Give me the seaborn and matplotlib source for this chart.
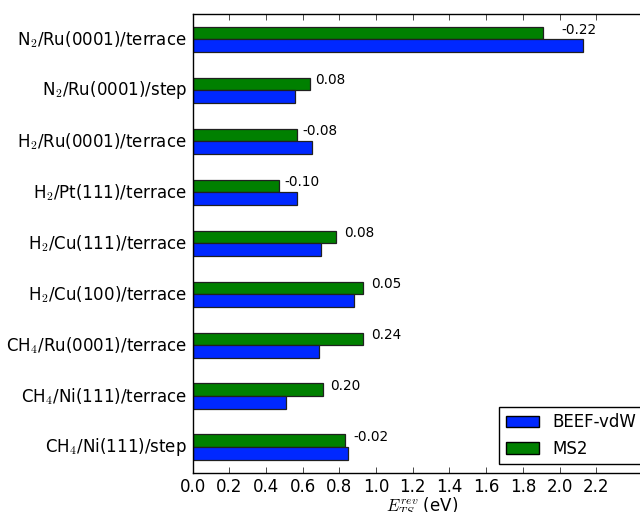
import matplotlib
matplotlib.use("Agg")
import matplotlib.pyplot as plt
import matplotlib.patches as mpatches
import numpy as np
import pandas as pd
import seaborn as sns

# Reaction systems, top to bottom
systems = [
    r"N$_2$/Ru(0001)/terrace",
    r"N$_2$/Ru(0001)/step",
    r"H$_2$/Ru(0001)/terrace",
    r"H$_2$/Pt(111)/terrace",
    r"H$_2$/Cu(111)/terrace",
    r"H$_2$/Cu(100)/terrace",
    r"CH$_4$/Ru(0001)/terrace",
    r"CH$_4$/Ni(111)/terrace",
    r"CH$_4$/Ni(111)/step",
]

# Reverse barrier heights (eV)
beef_vdw = [2.13, 0.56, 0.65, 0.57, 0.70, 0.88, 0.69, 0.51, 0.85]
ms2 = [1.91, 0.64, 0.57, 0.47, 0.78, 0.93, 0.93, 0.71, 0.83]

# Difference annotations (MS2 - BEEF-vdW)
diff_labels = ["-0.22", "0.08", "-0.08", "-0.10", "0.08", "0.05", "0.24", "0.20", "-0.02"]

x_ticks = [0.0, 0.2, 0.4, 0.6, 0.8, 1.0, 1.2, 1.4, 1.6, 1.8, 2.0, 2.2]

df = pd.DataFrame({
    "system": systems * 2,
    "value": beef_vdw + ms2,
    "method": ["BEEF-vdW"] * len(systems) + ["MS2"] * len(systems),
})

plt.style.use("classic")
plt.rcParams["figure.facecolor"] = "white"
plt.rcParams["savefig.facecolor"] = "white"
plt.rcParams["mathtext.fontset"] = "cm"
plt.rcParams["font.family"] = ["DejaVu Sans"]

colors = {"BEEF-vdW": "#0028ff", "MS2": "#008000"}

fig = plt.figure(figsize=(6.4, 5.12), dpi=100)
ax = fig.add_axes([0.3008, 0.0768, 0.7168, 0.8959])

sns.barplot(
    data=df, y="system", x="value", hue="method",
    order=systems, hue_order=["MS2", "BEEF-vdW"],
    palette=colors, orient="y", width=0.5, gap=0,
    edgecolor="#202020", linewidth=0.9, saturation=1,
    legend=False, ax=ax,
)

# Annotate each pair with the MS2 - BEEF-vdW difference
label_dx = [0.10, 0.03, 0.03, 0.03, 0.045, 0.045, 0.045, 0.04, 0.045]
for i, (v, txt) in enumerate(zip(ms2, diff_labels)):
    ax.text(v + label_dx[i], i - 0.125 - 0.07, txt,
            ha="left", va="center", fontsize=9.8)

ax.set_xlim(0, 2.5)
ax.set_ylim(len(systems) - 0.5, -0.5)
ax.set_xticks(x_ticks)
ax.set_xticklabels([f"{t:.1f}" for t in x_ticks], fontsize=12)
ax.tick_params(axis="y", labelsize=12, length=0)
ax.tick_params(axis="x", direction="in", top=True, length=4)
ax.set_ylabel("")
ax.set_xlabel(r"$E_{TS}^{rev}$ (eV)", fontsize=12, labelpad=0)

handles = [
    mpatches.Patch(facecolor=colors["BEEF-vdW"], edgecolor="black", label="BEEF-vdW"),
    mpatches.Patch(facecolor=colors["MS2"], edgecolor="black", label="MS2"),
]
ax.legend(handles=handles, loc="lower right", fontsize=12, fancybox=False,
          frameon=True, edgecolor="black", borderaxespad=0.5)

fig.savefig("out.png", dpi=100)
